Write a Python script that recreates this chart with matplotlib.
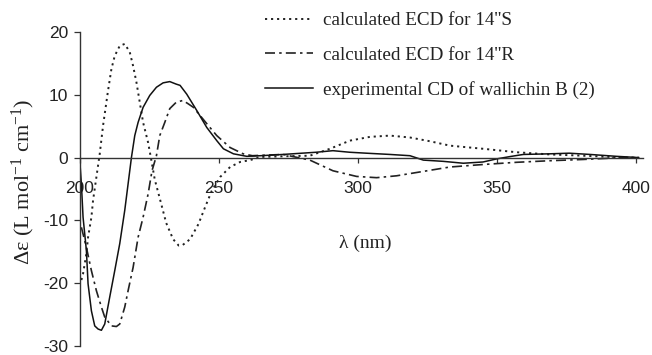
import matplotlib
matplotlib.use("Agg")
import matplotlib.pyplot as plt

# calculated ECD for 14''S (dotted)
s_x = [200.5, 201.1, 202.3, 202.9, 204.1, 204.7, 205.9, 207.1, 208.3, 210.0, 211.3, 212.5,
       214.3, 216.1, 217.9, 219.1, 220.3, 221.5, 222.7, 224.5, 225.7, 226.9, 228.7, 231.0,
       233.5, 235.5, 237.0, 239.6, 242.6, 245.0, 247.4, 250.4, 254.0, 257.6, 261.2, 265.0,
       273.0, 282.7, 289.9, 297.1, 304.3, 311.5, 318.7, 325.9, 333.1, 345.1, 357.1, 369.0,
       381.0, 393.0, 401.0]
s_y = [-19.5, -18.5, -15.3, -12.7, -9.5, -6.8, -3.1, 0.6, 5.1, 10.4, 14.1, 16.2,
       17.8, 18.1, 16.8, 14.6, 12.0, 8.8, 5.6, 2.4, -0.5, -3.5, -6.5, -10.4,
       -13.0, -14.0, -13.9, -13.0, -10.6, -7.9, -5.3, -3.1, -1.5, -0.7, -0.4, 0.1,
       0.2, 0.3, 1.4, 2.7, 3.3, 3.5, 3.2, 2.6, 1.9, 1.4, 0.85, 0.5,
       0.3, 0.05, 0.0]

# calculated ECD for 14''R (dash-dot)
r_x = [200.5, 202.3, 204.1, 205.9, 207.7, 208.9, 211.3, 213.1, 214.3, 216.1, 217.3, 219.1,
       220.9, 222.7, 224.5, 225.9, 227.5, 228.7, 230.5, 232.3, 234.6, 237.0, 238.8, 240.8,
       245.6, 249.2, 254.0, 258.7, 262.0, 273.0, 282.7, 291.0, 299.5, 306.7, 313.9, 323.5,
       333.1, 345.1, 357.1, 369.0, 381.0, 393.0, 401.0]
r_y = [-11.1, -14.3, -18.0, -21.2, -23.8, -25.4, -26.8, -26.9, -26.5, -23.8, -21.2, -17.5,
       -12.7, -9.5, -5.8, -2.1, 0.3, 3.5, 5.6, 7.8, 8.8, 9.1, 8.6, 8.0,
       5.4, 3.5, 1.6, 0.6, 0.3, 0.5, -0.4, -2.1, -3.0, -3.2, -2.9, -2.2,
       -1.5, -1.1, -0.75, -0.5, -0.3, -0.05, 0.0]

# experimental CD of wallichin B (2) (solid)
e_x = [200.0, 200.5, 201.1, 202.3, 202.9, 204.1, 205.3, 206.5, 207.7, 208.9, 210.7, 212.5,
       214.3, 216.1, 217.3, 218.5, 219.7, 220.9, 222.7, 225.1, 227.5, 229.9, 232.3, 234.6,
       236.0, 238.4, 242.0, 245.6, 249.2, 251.6, 255.2, 260.0, 265.0, 273.0, 285.0, 291.0,
       297.0, 303.0, 311.5, 318.7, 323.5, 330.7, 337.9, 345.0, 350.0, 354.7, 359.5, 369.0,
       376.0, 383.5, 393.0, 401.0]
e_y = [-1.0, -4.2, -9.5, -14.8, -20.1, -24.4, -26.8, -27.3, -27.5, -26.5, -22.2, -18.0,
       -13.7, -8.4, -4.2, 0.0, 3.5, 5.6, 8.0, 9.9, 11.2, 11.9, 12.1, 11.7,
       11.5, 10.1, 7.5, 4.8, 2.7, 1.4, 0.6, 0.2, 0.3, 0.5, 0.85, 1.1,
       0.85, 0.7, 0.5, 0.3, -0.4, -0.6, -0.9, -0.7, -0.2, 0.16, 0.5, 0.6,
       0.7, 0.5, 0.2, 0.0]

x_ticks = [200, 250, 300, 350, 400]
y_ticks = [-30, -20, -10, 0, 10, 20]
labels = ["calculated ECD for 14''S", "calculated ECD for 14''R",
          "experimental CD of wallichin B (2)"]

plt.rcParams['axes.unicode_minus'] = False
plt.rcParams['mathtext.fontset'] = 'custom'
plt.rcParams['mathtext.rm'] = 'Liberation Serif'
plt.rcParams['mathtext.it'] = 'Liberation Serif:italic'

fig = plt.figure(figsize=(6.52, 3.55), dpi=100)
ax = fig.add_axes([0.1227, 0.0254, 0.8633, 0.8845])

ax.plot(s_x, s_y, color='#222222', lw=1.4, linestyle=(0, (1.1, 2.0)), label=labels[0])
ax.plot(r_x, r_y, color='#222222', lw=1.2, linestyle=(0, (6, 2.5, 1.5, 2.5)), label=labels[1])
ax.plot(e_x, e_y, color='#111111', lw=1.1, linestyle='-', label=labels[2])

ax.set_xlim(200, 402.5)
ax.set_ylim(-30, 20)
ax.set_xticks(x_ticks)
ax.set_yticks(y_ticks)

for sp in ['top', 'right']:
    ax.spines[sp].set_visible(False)
ax.spines['bottom'].set_position(('data', 0))
for sp in ['left', 'bottom']:
    ax.spines[sp].set_color('#333333')
    ax.spines[sp].set_linewidth(1.0)

ax.tick_params(axis='x', direction='out', length=3.6, width=0.9, color='#333333',
               pad=13, labelsize=12.5, labelcolor='#222222')
ax.tick_params(axis='y', direction='out', length=4.3, width=0.9, color='#333333',
               pad=4, labelsize=12.5, labelcolor='#222222')
for t in ax.get_xticklabels() + ax.get_yticklabels():
    t.set_fontfamily('Liberation Sans')

fig.text(0.036, 0.487, 'Δε (L mol$^{-1}$ cm$^{-1}$)', rotation=90, ha='center', va='center',
         fontsize=16, family='Liberation Serif', color='#222222')
fig.text(0.56, 0.3155, 'λ (nm)', ha='center', va='center',
         fontsize=14, family='Liberation Serif', color='#222222')

leg = fig.legend(loc='upper left', bbox_to_anchor=(265 / 652, 1 - 12 / 355), frameon=False,
                 prop={'family': 'Liberation Serif', 'size': 13.8}, handlelength=2.5,
                 handletextpad=0.55, labelspacing=0.88, borderpad=0, borderaxespad=0)
for t in leg.get_texts():
    t.set_color('#222222')

fig.savefig('out.png', dpi=100)
